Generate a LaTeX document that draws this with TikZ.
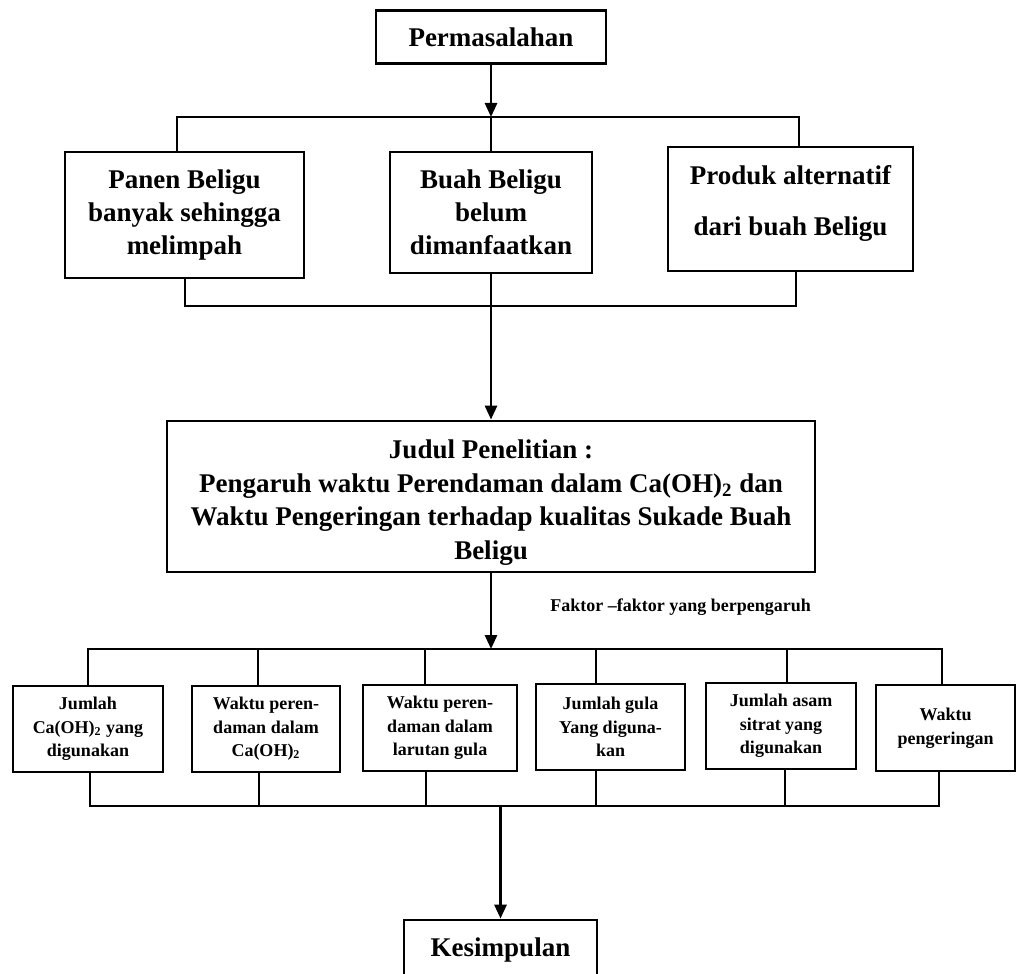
\documentclass[tikz,border=0pt]{standalone}
\usepackage{fontspec}
\setmainfont{Liberation Serif}
\usetikzlibrary{arrows.meta}
\tikzset{
  ln/.style={line width=1.4pt},
  arr/.style={ln,-{Triangle[length=7pt,width=6pt]}},
  bigbox/.style={draw,ln,rectangle,inner sep=0pt,align=center,
    font={\fontsize{13.5}{16.5}\selectfont\bfseries}},
  smallbox/.style={draw,ln,rectangle,inner sep=0pt,align=center,
    minimum height=43pt,
    font={\fontsize{9}{11.75}\selectfont\bfseries}},
  lbl/.style={inner sep=0pt,anchor=west,font={\fontsize{9}{11}\selectfont\bfseries}}
}
\begin{document}
\begin{tikzpicture}[x=0.5pt,y=-0.5pt]
\useasboundingbox (0,0) rectangle (1020,973);
\clip (0,0) rectangle (1020,973);
% top level
\node[bigbox,minimum width=115pt,minimum height=26.5pt] (perm) at (491,37) {Permasalahan};
\node[bigbox,minimum width=119.5pt,minimum height=63pt] (panen) at (184.5,215)
  {Panen Beligu\\banyak sehingga\\melimpah};
\node[bigbox,minimum width=101pt,minimum height=60.5pt] (buah) at (491,212.5)
  {Buah Beligu\\belum\\dimanfaatkan};
\node[bigbox,minimum width=122.5pt,minimum height=62pt,
  label={[align=center,inner sep=0pt,yshift=3pt,
    font={\fontsize{13.5}{25.5}\selectfont\bfseries}]center:Produk alternatif\\dari buah Beligu}]
  (produk) at (790.5,209) {};
\node[bigbox,minimum width=324pt,minimum height=75.5pt,
  label={[align=center,inner sep=0pt,yshift=-3pt,
    font={\fontsize{13.5}{16.75}\selectfont\bfseries}]center:Judul Penelitian :\\Pengaruh waktu Perendaman dalam Ca(OH)\textsubscript{2} dan\\Waktu Pengeringan terhadap kualitas Sukade Buah\\Beligu}]
  (judul) at (491,496.5) {};
\node[lbl] (faktor) at (550,607) {Faktor --faktor yang berpengaruh};
% factor boxes
\node[smallbox,minimum width=75pt] (f1) at (88,729) {Jumlah\\Ca(OH)\textsubscript{2} yang\\digunakan};
\node[smallbox,minimum width=74pt] (f2) at (266,729) {Waktu peren-\\daman dalam\\Ca(OH)\textsubscript{2}};
\node[smallbox,minimum width=77pt] (f3) at (440,728) {Waktu peren-\\daman dalam\\larutan gula};
\node[smallbox,minimum width=74.5pt] (f4) at (610.5,727) {Jumlah gula\\Yang diguna-\\kan};
\node[smallbox,minimum width=75pt] (f5) at (781,726) {Jumlah asam\\sitrat yang\\digunakan};
\node[smallbox,minimum width=69.5pt] (f6) at (945.5,728) {Waktu\\pengeringan};
\node[bigbox,minimum width=96.5pt,minimum height=30pt] (kes) at (500.5,950) {Kesimpulan};
% bus coordinates
\coordinate (b1l) at (177,117);
\coordinate (b1r) at (799,117);
\coordinate (b2l) at (185,306);
\coordinate (b2r) at (796,306);
\coordinate (b3l) at (88,649);
\coordinate (b3r) at (942,649);
\coordinate (u2) at (258,649);
\coordinate (u3) at (425,649);
\coordinate (u4) at (596,649);
\coordinate (u5) at (787,649);
\coordinate (b4l) at (90,806);
\coordinate (b4r) at (939,806);
\coordinate (d2) at (259,806);
\coordinate (d3) at (426,806);
\coordinate (d4) at (596,806);
\coordinate (d5) at (785,806);
% first group
\draw[arr] (perm.south) -- (perm.south |- b1l);
\draw[ln] (b1l |- panen.north) -- (b1l) -- (b1r) -- (b1r |- produk.north);
\draw[ln] (perm.south |- b1l) -- (buah.north);
\draw[ln] (b2l |- panen.south) -- (b2l) -- (b2r) -- (b2r |- produk.south);
\draw[ln] (buah.south) -- (buah.south |- b2l);
\draw[arr] (buah.south |- b2l) -- (judul.north);
% second group
\draw[arr] (judul.south) -- (judul.south |- b3l);
\draw[ln] (b3l |- f1.north) -- (b3l) -- (b3r) -- (b3r |- f6.north);
\draw[ln] (u2) -- (u2 |- f2.north);
\draw[ln] (u3) -- (u3 |- f3.north);
\draw[ln] (u4) -- (u4 |- f4.north);
\draw[ln] (u5) -- (u5 |- f5.north);
\draw[ln] (b4l |- f1.south) -- (b4l) -- (b4r) -- (b4r |- f6.south);
\draw[ln] (d2 |- f2.south) -- (d2);
\draw[ln] (d3 |- f3.south) -- (d3);
\draw[ln] (d4 |- f4.south) -- (d4);
\draw[ln] (d5 |- f5.south) -- (d5);
\draw[arr] (kes.north |- b4l) -- (kes.north);
\end{tikzpicture}
\end{document}
